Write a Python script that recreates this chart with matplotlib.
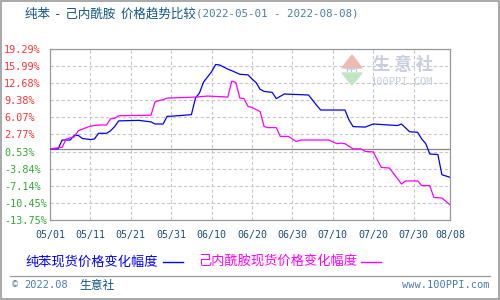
import matplotlib
matplotlib.use("Agg")
import matplotlib.pyplot as plt
from matplotlib.patches import Polygon, Rectangle
from matplotlib.lines import Line2D
import pandas as pd

CJK = ["Noto Sans CJK SC", "DejaVu Sans"]
MONO = ["DejaVu Sans Mono", "Noto Sans CJK SC"]

# 纯苯 price change (%) by date
benz_dates = ["05-01", "05-03", "05-04", "05-06", "05-07", "05-08", "05-09", "05-11",
              "05-12", "05-13", "05-15", "05-16", "05-17", "05-18", "05-23", "05-26",
              "05-27", "05-29", "05-30", "05-31", "06-05", "06-06", "06-07", "06-08",
              "06-10", "06-11", "06-12", "06-14", "06-15", "06-17", "06-19", "06-20",
              "06-21", "06-22", "06-23", "06-25", "06-26", "06-28", "07-04", "07-06",
              "07-07", "07-13", "07-14", "07-15", "07-18", "07-20", "07-24", "07-26",
              "07-27", "07-29", "07-31", "08-01", "08-02", "08-03", "08-05", "08-06",
              "08-08"]
benz_vals = [0.0, 0.0, 1.7, 1.7, 2.6, 2.6, 2.0, 1.8,
             1.9, 3.0, 3.0, 3.5, 4.3, 5.4, 5.5, 5.2,
             4.8, 4.8, 6.3, 6.3, 6.6, 9.8, 10.8, 12.9,
             14.9, 16.3, 16.2, 15.4, 15.1, 14.4, 14.3, 13.5,
             12.8, 11.5, 11.1, 10.9, 9.7, 10.6, 10.4, 8.4,
             7.5, 7.5, 5.6, 4.3, 4.2, 4.8, 4.6, 4.5,
             4.8, 3.3, 3.2, 1.9, 1.0, -1.0, -1.1, -5.0,
             -5.5]

# 己内酰胺 price change (%) by date
capro_dates = ["05-01", "05-04", "05-05", "05-07", "05-08", "05-11", "05-13", "05-15",
               "05-16", "05-17", "05-18", "05-26", "05-27", "05-29", "05-30", "06-06",
               "06-09", "06-14", "06-15", "06-16", "06-17", "06-18", "06-19", "06-20",
               "06-22", "06-23", "06-24", "06-26", "06-27", "06-29", "07-01", "07-02",
               "07-09", "07-11", "07-12", "07-13", "07-15", "07-17", "07-18", "07-20",
               "07-22", "07-24", "07-27", "07-28", "07-31", "08-01", "08-03", "08-04",
               "08-06", "08-08"]
capro_vals = [0.0, 0.3, 1.9, 2.3, 3.5, 4.4, 4.6, 4.6,
              5.8, 5.9, 6.4, 6.5, 9.1, 9.5, 9.8, 10.0,
              10.2, 10.0, 13.1, 12.8, 9.8, 9.7, 8.2, 8.0,
              7.2, 4.3, 4.1, 4.1, 2.4, 2.4, 1.4, 1.7,
              1.7, 1.0, 1.1, 1.0, 0.0, 0.0, -0.5, -0.6,
              -3.6, -3.7, -6.8, -6.2, -6.2, -7.1, -7.1, -9.4,
              -9.5, -10.8]

y_ticks = [19.29, 15.99, 12.68, 9.38, 6.07, 2.77, -0.53, -3.84, -7.14, -10.45, -13.75]
y_labels = ["19.29%", "15.99%", "12.68%", "9.38%", "6.07%", "2.77%", "0.53%",
            "-3.84%", "-7.14%", "-10.45%", "-13.75%"]
x_ticks = ["05-01", "05-11", "05-21", "05-31", "06-10", "06-20", "06-30",
           "07-10", "07-20", "07-30", "08-08"]


def to_dt(ds):
    return pd.to_datetime(["2022-" + d for d in ds])


W, H = 500, 300
fig = plt.figure(figsize=(W / 100, H / 100), dpi=100)


def fx(px):
    return px / W


def fy(py):
    return 1 - py / H


ax = fig.add_axes([fx(50), fy(220), fx(400), (220 - 49) / H])

grid_c = "#c8c8c8"
for yv in y_ticks:
    ax.axhline(yv, color=grid_c, lw=0.8, ls=(0, (3, 2)), zorder=1)
for xv in to_dt(x_ticks):
    ax.axvline(xv, color=grid_c, lw=0.8, ls=(0, (3, 2)), zorder=1)
ax.axhline(0, color="#888888", lw=0.9, zorder=2)

ax.plot(to_dt(benz_dates), benz_vals, color="#0000ff", lw=0.9, zorder=3)
ax.plot(to_dt(capro_dates), capro_vals, color="#ff00ff", lw=0.9, zorder=3)

ax.set_xlim(pd.Timestamp("2022-05-01"), pd.Timestamp("2022-08-08"))
ax.set_ylim(-13.75, 19.29)

ax.set_yticks(y_ticks)
ax.set_yticklabels(y_labels, family=MONO, fontsize=7.3)
for lab, v in zip(ax.get_yticklabels(), y_ticks):
    lab.set_color("#ff3333" if v > 0 else "#33aa33")
    lab.set_horizontalalignment("left")
ax.tick_params(axis="y", length=0, pad=33)

ax.set_xticks(to_dt(x_ticks))
ax.set_xticklabels([d.replace("-", "/") for d in x_ticks], family=MONO,
                   fontsize=7.2, color="#1a4f80")
ax.tick_params(axis="x", length=0, pad=7)

for s in ax.spines.values():
    s.set_color("#999999")
    s.set_linewidth(0.9)
ax.set_facecolor("white")

# title
t1 = fig.text(fx(25), fy(14), "纯苯  -  己内酰胺  价格趋势比较", family=CJK,
              fontsize=9, color="#11567f", va="center", ha="left")
t2 = matplotlib.text.Annotation(
    "(2022-05-01 - 2022-08-08)", xy=(1, 0.5), xycoords=t1, va="center",
    ha="left", family=MONO, fontsize=7.8, color="#4a7fa8")
fig.add_artist(t2)

# legend
fig.text(fx(25), fy(262), "纯苯现货价格变化幅度", family=CJK, fontsize=9.5,
         color="#0000ff", va="center", ha="left")
fig.add_artist(Line2D([fx(163), fx(183)], [fy(262), fy(262)], color="#0000ff", lw=1))
fig.text(fx(198), fy(262), "己内酰胺现货价格变化幅度", family=CJK, fontsize=9.5,
         color="#ff00ff", va="center", ha="left")
fig.add_artist(Line2D([fx(361), fx(381)], [fy(262), fy(262)], color="#ff00ff", lw=1))

# footer
fig.add_artist(Line2D([fx(10), fx(490)], [fy(276), fy(276)], color="#999999", lw=0.9))
fig.text(fx(11), fy(285), "©", fontsize=6, color="#4a6f90", va="center", ha="left")
fig.text(fx(24), fy(285), "2022.08", family=MONO, fontsize=7.5, color="#4a7fa8",
         va="center", ha="left")
fig.text(fx(79), fy(285), "生意社", family=CJK, fontsize=8.5, color="#11567f",
         va="center", ha="left")
fig.text(fx(490), fy(285), "www.100PPI.com", family=MONO, fontsize=7.5,
         color="#4a7fa8", va="center", ha="right")

# watermark
fig.add_artist(Polygon([[fx(342), fy(68)], [fx(352), fy(55)], [fx(362), fy(68)]],
                       closed=True, color="#f2b9b3", zorder=0.5))
fig.add_artist(Polygon([[fx(342), fy(73)], [fx(362), fy(73)], [fx(352), fy(85)]],
                       closed=True, color="#bfe6c2", zorder=0.5))
fig.text(fx(352), fy(70.5), "PPI", fontsize=5, color="#c0c8dc", ha="center",
         va="center", weight="bold")
fig.text(fx(403), fy(65), "生 意 社", family=CJK, fontsize=12.5, color="#c8cee0",
         ha="center", va="center", weight="bold")
fig.text(fx(402), fy(82), "100PPI.COM", family=MONO, fontsize=7.5, color="#c8cee0",
         ha="center", va="center")

fig.add_artist(Rectangle((0.001, 0.002), 0.997, 0.995, fill=False,
                         edgecolor="#999999", lw=1.2))

fig.savefig("out.png", dpi=100)
